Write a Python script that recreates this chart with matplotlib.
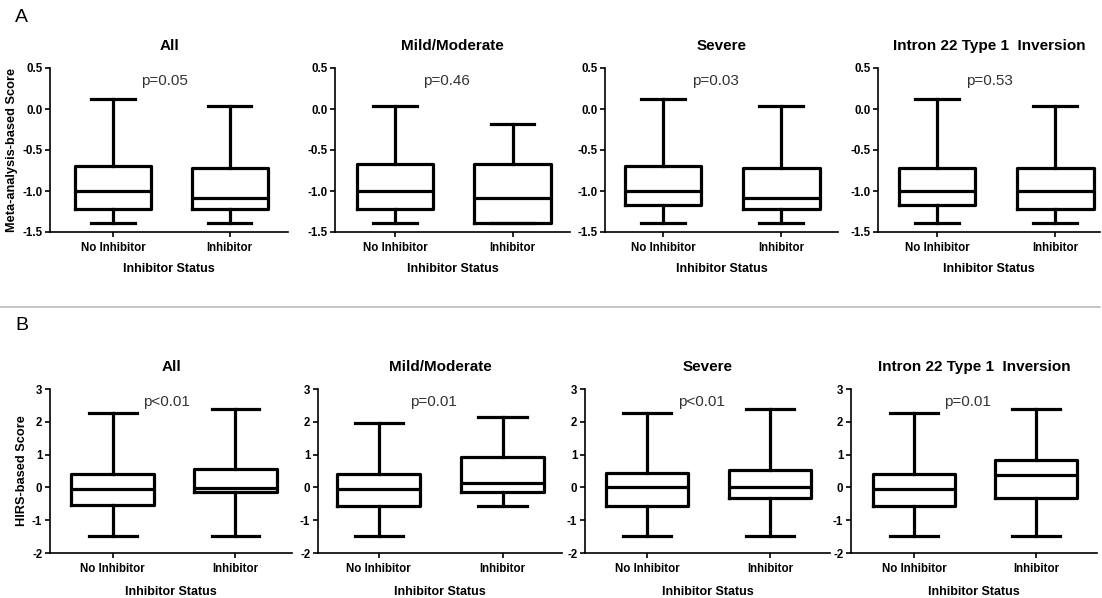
import matplotlib
matplotlib.use('Agg')
import matplotlib.pyplot as plt
from matplotlib.lines import Line2D

plt.rcParams['font.family'] = ['Liberation Sans', 'DejaVu Sans']
plt.rcParams['axes.unicode_minus'] = False

groups = ['No Inhibitor', 'Inhibitor']
subsets = ['All', 'Mild/Moderate', 'Severe', 'Intron 22 Type 1  Inversion']

# five-number summaries: whisker low, q1, median, q3, whisker high
a_all = [[-1.39, -1.215, -1.0, -0.69, 0.12], [-1.39, -1.22, -1.09, -0.725, 0.04]]
a_mild = [[-1.39, -1.22, -1.0, -0.67, 0.04], [-1.39, -1.39, -1.09, -0.67, -0.18]]
a_severe = [[-1.39, -1.165, -1.0, -0.69, 0.12], [-1.39, -1.22, -1.09, -0.725, 0.04]]
a_intron = [[-1.39, -1.165, -1.0, -0.725, 0.12], [-1.39, -1.22, -1.0, -0.725, 0.04]]

b_all = [[-1.47, -0.55, -0.05, 0.42, 2.28], [-1.47, -0.13, -0.02, 0.55, 2.38]]
b_mild = [[-1.48, -0.57, -0.05, 0.42, 1.95], [-0.56, -0.14, 0.13, 0.92, 2.15]]
b_severe = [[-1.47, -0.56, 0.0, 0.43, 2.28], [-1.47, -0.32, 0.0, 0.54, 2.38]]
b_intron = [[-1.48, -0.56, -0.05, 0.42, 2.28], [-1.48, -0.33, 0.39, 0.83, 2.39]]

a_pvals = ['p=0.05', 'p=0.46', 'p=0.03', 'p=0.53']
b_pvals = ['p<0.01', 'p=0.01', 'p<0.01', 'p=0.01']

a_yticks = [-1.5, -1.0, -0.5, 0.0, 0.5]
b_yticks = [-2, -1, 0, 1, 2, 3]

W, H = 1102, 598
fig = plt.figure(figsize=(W / 100, H / 100), dpi=100)

# axes boxes in pixels: left, right, and x-limits
a_boxes = [(50, 288, 0.46, 2.50), (335, 570, 0.487, 2.49), (605, 838, 0.51, 2.48), (878, 1100, 0.50, 2.38)]
b_boxes = [(50, 292, 0.49, 2.46), (318, 562, 0.51, 2.48), (585, 830, 0.496, 2.49), (851, 1097, 0.484, 2.50)]


def to_stats(rows):
    out = []
    for lo, q1, med, q3, hi in rows:
        out.append(dict(whislo=lo, q1=q1, med=med, q3=q3, whishi=hi, fliers=[]))
    return out


def draw_row(panels, boxes, top_px, bot_px, ylim, yticks, yfmt, pvals, py, ylabel, bw, cw, xlpad):
    axs = []
    for i, (rows, (l, r, x0, x1)) in enumerate(zip(panels, boxes)):
        ax = fig.add_axes([l / W, 1 - bot_px / H, (r - l) / W, (bot_px - top_px) / H])
        lw = 2.3
        ax.bxp(to_stats(rows), positions=[1, 2], widths=bw, capwidths=cw,
               showfliers=False,
               boxprops=dict(color='black', linewidth=lw),
               medianprops=dict(color='black', linewidth=lw),
               whiskerprops=dict(color='black', linewidth=lw),
               capprops=dict(color='black', linewidth=lw))
        ax.set_xlim(x0, x1)
        ax.set_ylim(*ylim)
        ax.set_yticks(yticks)
        ax.set_yticklabels([yfmt.format(v) for v in yticks])
        ax.set_xticks([1, 2])
        ax.set_xticklabels(groups)
        for s in ['top', 'right']:
            ax.spines[s].set_visible(False)
        for s in ['left', 'bottom']:
            ax.spines[s].set_linewidth(1.2)
        ax.tick_params(direction='out', length=3.5, width=1.2, labelsize=8.3, pad=2)
        ax.tick_params(axis='x', pad=3.5)
        for t in ax.get_xticklabels() + ax.get_yticklabels():
            t.set_fontweight('bold')
        ax.set_title(subsets[i], fontsize=11, fontweight='bold', pad=13)
        ax.set_xlabel('Inhibitor Status', fontsize=9, fontweight='bold', labelpad=xlpad)
        ax.text(1.44, py, pvals[i], ha='center', va='center', fontsize=11, color='#333333')
        if i == 0:
            ax.set_ylabel(ylabel, fontsize=9.2, fontweight='bold', labelpad=3)
        axs.append(ax)
    return axs


draw_row([a_all, a_mild, a_severe, a_intron], a_boxes, 68, 232, (-1.5, 0.5),
         a_yticks, '{:.1f}', a_pvals, 0.34, 'Meta-analysis-based Score', 0.65, 0.37, 7)
draw_row([b_all, b_mild, b_severe, b_intron], b_boxes, 389, 553, (-2, 3),
         b_yticks, '{:d}', b_pvals, 2.6, 'HIRS-based Score', 0.67, 0.39, 8)

fig.text(15 / W, 1 - 18 / H, 'A', fontsize=14, ha='left', va='center')
fig.text(15 / W, 1 - 325 / H, 'B', fontsize=14, ha='left', va='center')
fig.add_artist(Line2D([0, 1100 / W], [1 - 307 / H, 1 - 307 / H], color='#bbbbbb', linewidth=1.2))

fig.savefig('out.png', dpi=100)
